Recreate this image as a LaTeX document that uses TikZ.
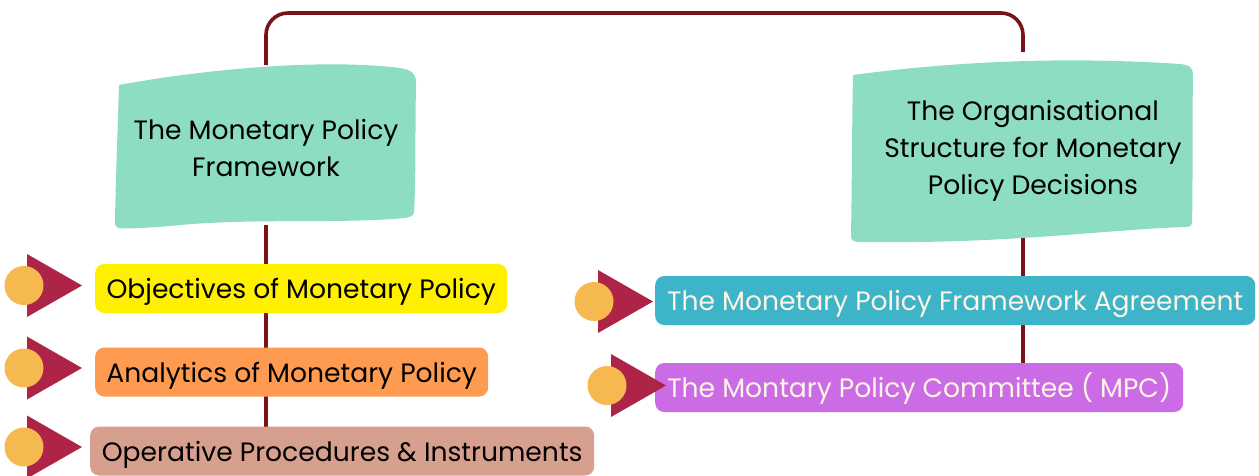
\documentclass[tikz,border=0pt]{standalone}
\usepackage{fontspec}
\setmainfont{Poppins}
\usetikzlibrary{backgrounds}
\definecolor{mint}{HTML}{8DDCC4}
\definecolor{linered}{HTML}{7A1216}
\definecolor{yel}{HTML}{FFF000}
\definecolor{orn}{HTML}{FF9B50}
\definecolor{dusty}{HTML}{D79F8D}
\definecolor{tealb}{HTML}{3DB4C8}
\definecolor{violet}{HTML}{CB6CE6}
\definecolor{dotc}{HTML}{F5B94F}
\definecolor{tric}{HTML}{AE2447}
\definecolor{cream}{HTML}{FFF5E6}
\tikzset{
  conn/.style={draw=linered, line width=3.6pt},
  pill/.style={rectangle, rounded corners=9pt, inner sep=0pt, minimum height=49pt, text height=20pt, text depth=0pt, font=\fontsize{26.6}{30}\selectfont, anchor=west},
  head/.style={align=center, font=\fontsize{26.6}{37}\selectfont, inner sep=0pt},
  wavy/.style={fill=mint, draw=none}
}
\newcommand{\marker}[3]{% x of triangle left, y centre, circle x
  \fill[tric] (#1,#2-31.5) -- (#1+55,#2) -- (#1,#2+31.5) -- cycle;
  \fill[dotc] (#3,#2) circle (19.5);
}
\begin{document}
\begin{tikzpicture}[x=1pt,y=-1pt]
\useasboundingbox (0,0) rectangle (1259,475);
\clip (0,0) rectangle (1259,475);
% wavy boxes
\fill[wavy] (119,85) .. controls (200,70) and (320,58) .. (400,68)
  .. controls (412,70) and (416,74) .. (416,82)
  .. controls (415,140) and (416,180) .. (414,212)
  .. controls (414,216) and (410,217) .. (405,218)
  .. controls (340,224) and (260,218) .. (180,225)
  .. controls (150,228) and (125,229) .. (118,228)
  .. controls (115,227) and (115,224) .. (115,220)
  .. controls (116,170) and (118,120) .. (119,85) -- cycle;
\fill[wavy] (853,75) .. controls (950,62) and (1060,56) .. (1180,64)
  .. controls (1190,65) and (1193,68) .. (1193,75)
  .. controls (1192,140) and (1193,190) .. (1192,222)
  .. controls (1192,226) and (1189,227) .. (1185,227)
  .. controls (1100,230) and (1010,244) .. (860,242)
  .. controls (853,242) and (851,240) .. (851,236)
  .. controls (852,180) and (852,120) .. (853,75) -- cycle;
\coordinate (lboxtop) at (266,65);
\coordinate (lboxbot) at (266,225);
\coordinate (rboxtop) at (1023,52);
\coordinate (rboxbot) at (1023,238);
\node[head] (lhead) at (266,147.5) {The Monetary Policy\\Framework};
\node[head] (rhead) at (1033,151) {The Organisational\\Structure for Monetary\\Policy Decisions};
% pills
\node[pill, fill=dusty, minimum width=504pt] (op) at (90,451) {Operative Procedures \& Instruments};
\node[pill, fill=orn, minimum width=393pt] (an) at (95,372) {Analytics of Monetary Policy};
\node[pill, fill=yel, minimum width=412pt] (ob) at (95,288.5) {Objectives of Monetary Policy};
\node[pill, fill=tealb, text=cream, minimum width=600pt] (fa) at (655,300.5) {The Monetary Policy Framework Agreement};
\node[pill, fill=violet, text=cream, minimum width=528pt] (mpc) at (655,387.5) {The Montary Policy Committee ( MPC)};
% connectors
\begin{scope}[on background layer]
\draw[conn] (lboxbot) -- (lboxbot |- op.center);
\draw[conn] (rboxbot) -- (rboxbot |- mpc.center);
\end{scope}
\draw[conn, rounded corners=22pt] (lboxtop) |- (644,13) -| (rboxtop);
% markers
\marker{27}{285.5}{24}
\marker{27}{368}{24}
\marker{27}{447}{24}
\marker{598}{301.5}{594}
\marker{611}{385.5}{607}
\end{tikzpicture}
\end{document}
